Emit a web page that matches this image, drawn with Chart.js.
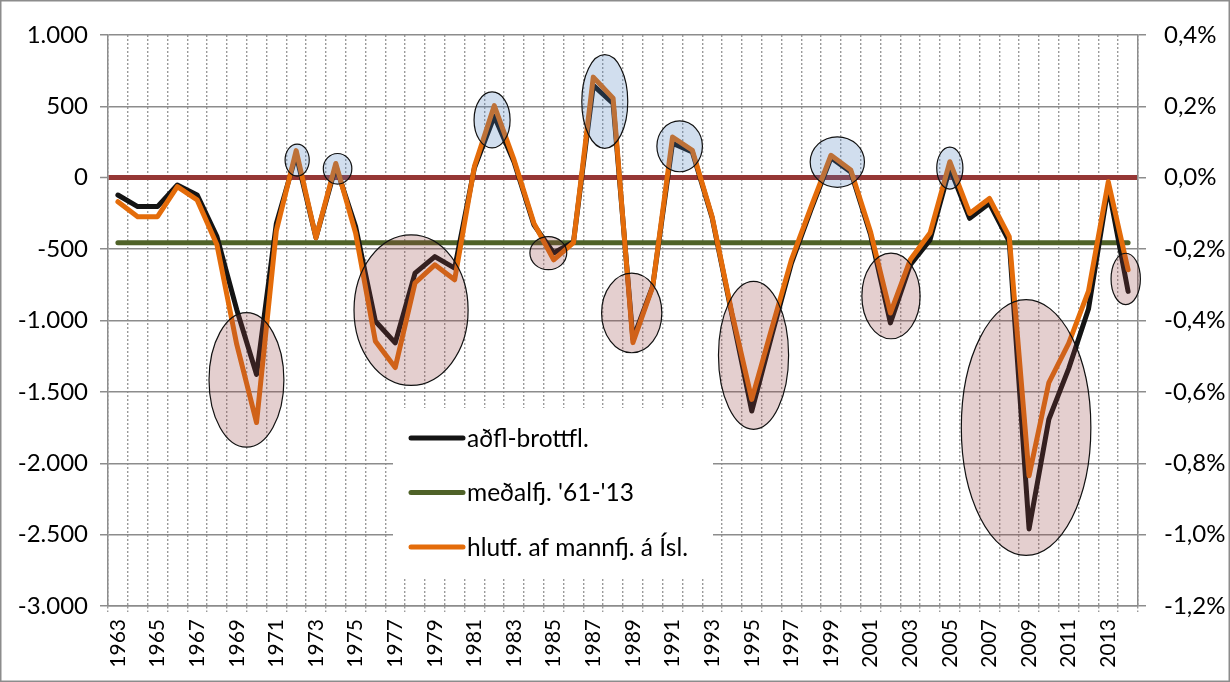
<!DOCTYPE html>
<html>
<head>
<meta charset="utf-8">
<script src="https://cdn.jsdelivr.net/npm/chart.js@4.4.1/dist/chart.umd.min.js"></script>
<style>
  html, body { margin: 0; padding: 0; background: #fff; }
</style>
</head>
<body>
<canvas id="myChart" width="1230" height="682"></canvas>
<script>
// Ár (flokkar á x-ás)
const years = [
  "1963", "1964", "1965", "1966", "1967", "1968", "1969", "1970", "1971", "1972",
  "1973", "1974", "1975", "1976", "1977", "1978", "1979", "1980", "1981", "1982",
  "1983", "1984", "1985", "1986", "1987", "1988", "1989", "1990", "1991", "1992",
  "1993", "1994", "1995", "1996", "1997", "1998", "1999", "2000", "2001", "2002",
  "2003", "2004", "2005", "2006", "2007", "2008", "2009", "2010", "2011", "2012",
  "2013", "2014"
];

// aðfluttir - brottfluttir (vinstri ás, fjöldi)
const adflBrottfl = [
  -121, -202, -202, -51, -120, -412, -924, -1378, -320, 160,
  -420, 80, -342, -1005, -1157, -668, -552, -633, 70, 430,
  110, -330, -527, -450, 647, 520, -1130, -760, 242, 180,
  -280, -960, -1634, -1110, -600, -220, 140, 40, -400, -1017,
  -610, -435, 68, -284, -179, -447, -2460, -1692, -1337, -920,
  -63, -796
];

// hlutfall af mannfjölda á Íslandi (hægri ás, %)
const hlutfMannfj = [
  -0.067, -0.109, -0.109, -0.025, -0.062, -0.188, -0.467, -0.686, -0.148, 0.076,
  -0.168, 0.040, -0.155, -0.458, -0.532, -0.295, -0.244, -0.286, 0.032, 0.202,
  0.050, -0.127, -0.230, -0.182, 0.282, 0.223, -0.462, -0.305, 0.114, 0.077,
  -0.109, -0.379, -0.621, -0.424, -0.230, -0.081, 0.063, 0.022, -0.152, -0.379,
  -0.230, -0.155, 0.045, -0.100, -0.058, -0.165, -0.835, -0.574, -0.464, -0.318,
  -0.011, -0.258
];

// meðaltal '61-'13
const medaltal = -455;

// ásar
const leftMin = -3000, leftMax = 1000, leftStep = 500;
const rightMin = -1.2, rightMax = 0.4, rightStep = 0.2;

// hringir: [miðja (ár), miðja (gildi), hálf breidd (ár), hálf hæð (gildi)]
const lagpunktar = [
  [1969.49, -1416, 1.89, 471],
  [1977.8, -927, 2.88, 527],
  [1984.73, -528, 0.93, 116],
  [1988.94, -947, 1.52, 279],
  [1995.09, -1244, 1.77, 518],
  [2002.03, -828, 1.47, 300],
  [2008.85, -1750, 3.27, 896],
  [2013.88, -709, 0.74, 180]
];
const toppar = [
  [1972.05, 124, 0.61, 112],
  [1974.09, 63, 0.72, 107],
  [1981.89, 405, 0.91, 196],
  [1987.58, 534, 1.16, 328],
  [1991.36, 220, 1.15, 178],
  [1999.32, 110, 1.37, 177],
  [2005.0, 68, 0.66, 147]
];

const svartur = "#141414";
const graenn = "#4F6228";
const appelsinugulur = "#E46C0A";
const raudur = "#953735";
const grar = "#8c8c8c";

const legendItems = [
  { label: "aðfl-brottfl.", color: svartur },
  { label: "meðalfj. '61-'13", color: graenn },
  { label: "hlutf. af mannfj. á Ísl.", color: appelsinugulur }
];

function formatThousands(v) {
  const n = String(Math.round(Math.abs(v))).replace(/\B(?=(\d{3})+(?!\d))/g, ".");
  return (v < 0 ? "-" : "") + n;
}

function formatPercent(v) {
  if (Math.abs(v) < 1e-9) v = 0;
  return v.toFixed(1).replace(".", ",") + "%";
}

function drawEllipses(chart, list, fill) {
  const ctx = chart.ctx;
  const xs = chart.scales.x;
  const ys = chart.scales.y;
  const first = Number(years[0]);
  list.forEach(([year, value, halfYears, halfValue]) => {
    const i = year - first;
    const cx = xs.getPixelForValue(i);
    const rx = Math.abs(xs.getPixelForValue(i + halfYears) - cx);
    const cy = ys.getPixelForValue(value);
    const ry = Math.abs(ys.getPixelForValue(value + halfValue) - cy);
    ctx.beginPath();
    ctx.ellipse(cx, cy, rx, ry, 0, 0, Math.PI * 2);
    ctx.fillStyle = fill;
    ctx.fill();
    ctx.lineWidth = 1.2;
    ctx.strokeStyle = "#111";
    ctx.stroke();
  });
}

const skyringPlugin = {
  id: "skyring",
  beforeDatasetsDraw(chart) {
    const { ctx, chartArea } = chart;
    const left = chartArea.left + 285;
    const top = chartArea.top + 373;
    ctx.save();
    ctx.fillStyle = "#fff";
    ctx.fillRect(left, top, 320, 169);
    ctx.font = "24.5px Lato, sans-serif";
    ctx.textBaseline = "middle";
    legendItems.forEach((item, i) => {
      const y = top + 30 + i * 54.5;
      ctx.strokeStyle = item.color;
      ctx.lineWidth = 5;
      ctx.lineCap = "round";
      ctx.beginPath();
      ctx.moveTo(left + 18, y);
      ctx.lineTo(left + 70, y);
      ctx.stroke();
      ctx.fillStyle = "#000";
      ctx.fillText(item.label, left + 74, y + 1);
    });
    ctx.restore();
  }
};

const hringirPlugin = {
  id: "hringir",
  afterDatasetsDraw(chart) {
    const ctx = chart.ctx;
    ctx.save();
    drawEllipses(chart, lagpunktar, "rgba(150, 70, 70, 0.26)");
    drawEllipses(chart, toppar, "rgba(79, 129, 189, 0.26)");
    ctx.restore();
  }
};

const rammiPlugin = {
  id: "rammi",
  afterDraw(chart) {
    const ctx = chart.ctx;
    ctx.save();
    ctx.strokeStyle = grar;
    ctx.lineWidth = 1.5;
    ctx.strokeRect(0.75, 0.75, chart.width - 1.5, chart.height - 1.5);
    ctx.restore();
  }
};

Chart.defaults.font.family = "Lato, sans-serif";
Chart.defaults.font.size = 24;
Chart.defaults.color = "#000";

const ctx = document.getElementById("myChart").getContext("2d");
new Chart(ctx, {
  type: "line",
  data: {
    labels: years,
    datasets: [
      {
        label: legendItems[2].label,
        data: hlutfMannfj,
        yAxisID: "y1",
        borderColor: appelsinugulur,
        borderWidth: 5,
        pointRadius: 0,
        tension: 0,
        borderJoinStyle: "round",
        borderCapStyle: "round"
      },
      {
        label: legendItems[0].label,
        data: adflBrottfl,
        yAxisID: "y",
        borderColor: svartur,
        borderWidth: 5,
        pointRadius: 0,
        tension: 0,
        borderJoinStyle: "round",
        borderCapStyle: "round"
      },
      {
        label: legendItems[1].label,
        data: [
          { x: years[0], y: medaltal },
          { x: years[years.length - 1], y: medaltal }
        ],
        yAxisID: "y",
        borderColor: graenn,
        borderWidth: 5,
        pointRadius: 0,
        borderCapStyle: "round"
      }
    ]
  },
  options: {
    responsive: false,
    animation: false,
    layout: { padding: { top: 35, left: 0, right: 0, bottom: 0 } },
    plugins: {
      legend: { display: false },
      tooltip: { enabled: false }
    },
    scales: {
      x: {
        offset: true,
        grid: {
          offset: true,
          color: "#9a9a9a",
          lineWidth: 1.4,
          tickLength: 6,
          tickBorderDash: [2, 2]
        },
        border: { display: true, color: grar, width: 1.5, dash: [2, 2] },
        ticks: {
          autoSkip: false,
          minRotation: 90,
          maxRotation: 90,
          padding: 7,
          font: { size: 21 },
          callback: function (val, i) {
            return i % 2 === 0 ? years[i] : "";
          }
        },
        afterFit: function (s) {
          s.height = 76;
        }
      },
      y: {
        position: "left",
        min: leftMin,
        max: leftMax,
        ticks: {
          stepSize: leftStep,
          padding: 12,
          callback: function (v) {
            return formatThousands(v);
          }
        },
        grid: {
          color: function (c) {
            return c.tick && c.tick.value === 0 ? raudur : grar;
          },
          lineWidth: function (c) {
            return c.tick && c.tick.value === 0 ? 5 : 1.5;
          },
          tickColor: grar,
          tickWidth: 1.5,
          tickLength: 8
        },
        border: { color: grar, width: 1.5 },
        afterFit: function (s) {
          s.width = 108;
        }
      },
      y1: {
        position: "right",
        min: rightMin,
        max: rightMax,
        ticks: {
          stepSize: rightStep,
          padding: 18,
          callback: function (v) {
            return formatPercent(v);
          }
        },
        grid: {
          drawOnChartArea: false,
          color: grar,
          lineWidth: 1.5,
          tickLength: 8
        },
        border: { color: grar, width: 1.5 },
        afterFit: function (s) {
          s.width = 92;
        }
      }
    }
  },
  plugins: [skyringPlugin, hringirPlugin, rammiPlugin]
});
</script>
</body>
</html>
